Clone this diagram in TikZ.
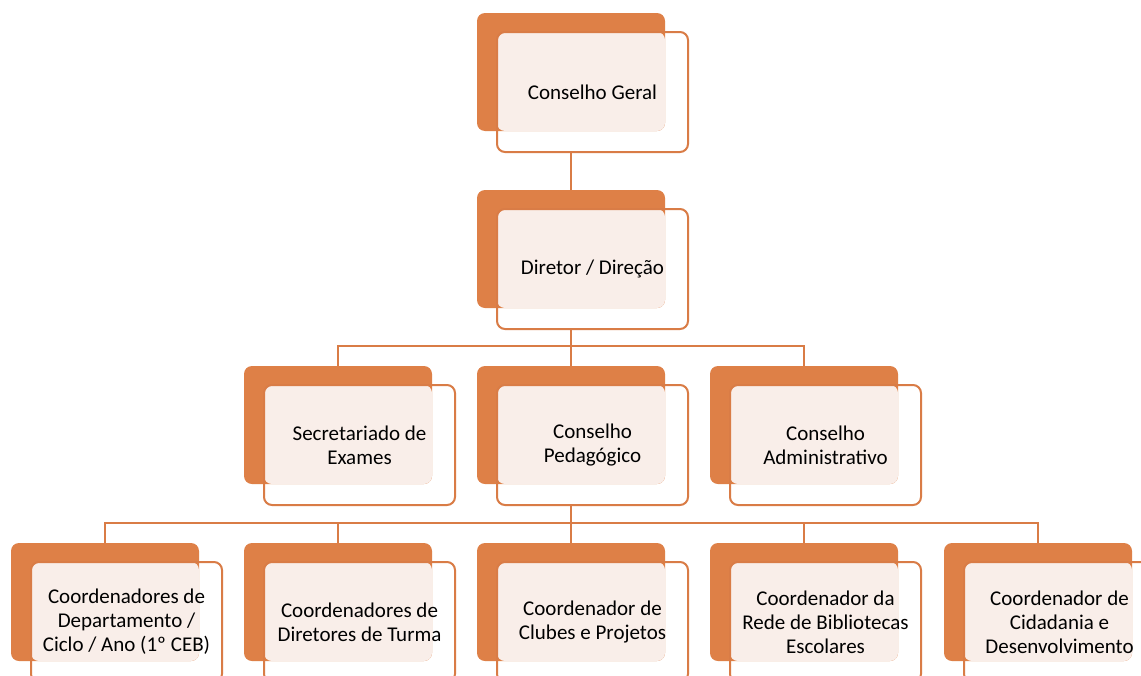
\documentclass[tikz,border=0pt]{standalone}
\usepackage{fontspec}
\setmainfont{Carlito}
\usetikzlibrary{positioning}

\definecolor{boxorange}{RGB}{222,128,71}
\definecolor{lineorange}{RGB}{217,124,70}
\definecolor{boxlight}{RGB}{249,238,233}

\tikzset{
  backbox/.style={fill=boxorange, rounded corners=8pt, minimum width=188pt,
    minimum height=118pt, inner sep=0pt},
  frontbox/.style={draw=lineorange, line width=2pt, rounded corners=8pt,
    minimum width=191pt, minimum height=120pt, inner sep=0pt, align=center,
    font=\fontsize{21}{24}\selectfont},
  link/.style={draw=lineorange, line width=2pt},
}

% name, left, top (of the orange card), text
\NewDocumentCommand{\orgbox}{mmmm}{%
\node[backbox] (#1-back) at (#2+94,#3+59) {};
\fill[boxlight, rounded corners=8pt] (#2+20,#3+19) rectangle (#2+188,#3+118);
\node[frontbox] (#1) at (#2+115.5,#3+79) {#4};
}

\begin{document}
\begin{tikzpicture}[x=1pt,y=-1pt]
        \clip (0,0) rectangle (1141,675);
        \fill[white] (0,0) rectangle (1141,675);

        % top
        \orgbox{geral}{477}{13}{Conselho Geral}
        \orgbox{dir}{477}{190}{Diretor / Direção}

        % row 3
        \orgbox{sec}{244}{366}{Secretariado de\\Exames}
        \orgbox{ped}{477}{366}{Conselho\\Pedagógico}
        \orgbox{adm}{710}{366}{Conselho\\Administrativo}

        % row 4
        \orgbox{dep}{11}{543}{Coordenadores de\\Departamento /\\Ciclo / Ano (1º CEB)}
        \orgbox{dt}{244}{543}{Coordenadores de\\Diretores de Turma}
        \orgbox{clu}{477}{543}{Coordenador de\\Clubes e Projetos}
        \orgbox{bib}{710}{543}{Coordenador da\\Rede de Bibliotecas\\Escolares}
        \orgbox{cid}{944}{543}{Coordenador de\\Cidadania e\\Desenvolvimento}

        % links
        \coordinate (bus3) at (571,346);
        \coordinate (bus4) at (571,523);
        \draw[link] (geral.south -| geral-back.center) -- (dir-back.north);
        \draw[link] (dir.south -| dir-back.center) -- (bus3);
        \draw[link] (sec-back.north) |- (bus3) -| (adm-back.north);
        \draw[link] (ped-back.north) -- (bus3);
        \draw[link] (ped.south -| ped-back.center) -- (bus4);
        \draw[link] (dep-back.north) |- (bus4) -| (cid-back.north);
        \draw[link] (dt-back.north) -- (dt-back.north |- bus4);
        \draw[link] (clu-back.north) -- (bus4);
        \draw[link] (bib-back.north) -- (bib-back.north |- bus4);
\end{tikzpicture}
\end{document}
